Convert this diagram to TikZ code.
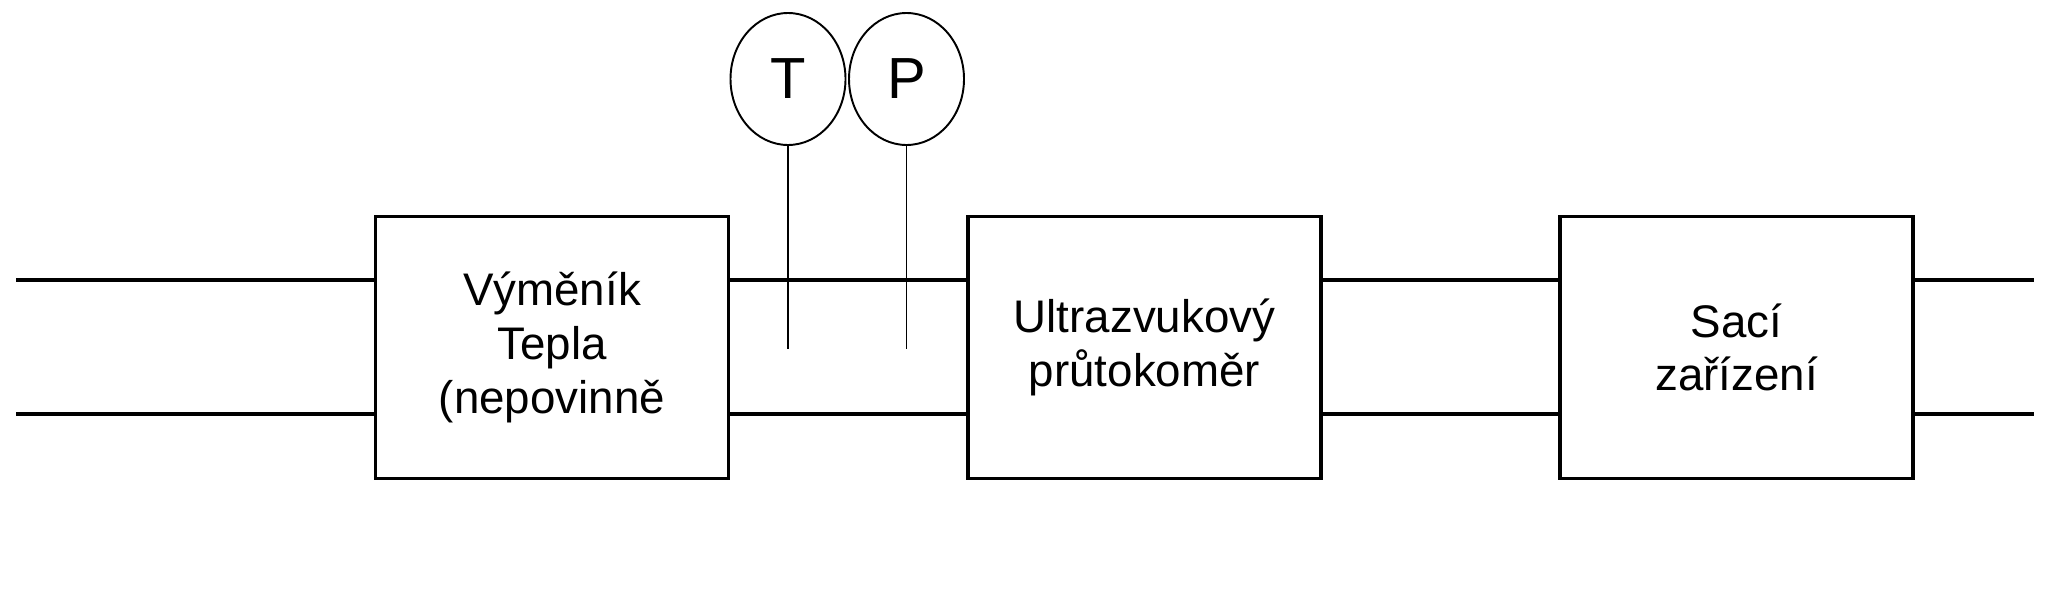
\documentclass[tikz,border=0pt]{standalone}
\usepackage{fontspec}
\setmainfont{Liberation Sans}
\usetikzlibrary{shapes.geometric}

\tikzset{
  pipe/.style={line width=1.8pt},
  unit/.style={draw, line width=1.8pt, minimum width=7.06cm, minimum height=5.24cm,
    inner sep=0pt, align=center, font=\fontsize{26}{30.5}\selectfont},
  gauge/.style={draw, ellipse, line width=1.1pt, minimum width=2.3cm, minimum height=2.64cm,
    inner sep=0pt, font=\fontsize{33}{36}\selectfont},
  stem/.style={line width=1.1pt}
}

\begin{document}
\begin{tikzpicture}
  \useasboundingbox (0,0) rectangle (40.94,12.14);

  % units on the line
  \node[unit] (HX) at (11.04, 5.19) {Výměník\\Tepla\\(nepovinně};
  \node[unit] (USF) at (22.89, 5.19) {Ultrazvukový\\průtokoměr};
  \node[unit] (SUCT) at (34.73, 5.19) {Sací\\zařízení};

  \coordinate (inU) at (0.32, 6.54);
  \coordinate (inL) at (0.32, 3.86);
  \coordinate (outU) at (40.68, 6.54);
  \coordinate (outL) at (40.68, 3.86);

  \draw[pipe] (inU) -- (inU -| HX.west);
  \draw[pipe] (inL) -- (inL -| HX.west);
  \draw[pipe] (inU -| HX.east) -- (inU -| USF.west);
  \draw[pipe] (inL -| HX.east) -- (inL -| USF.west);
  \draw[pipe] (inU -| USF.east) -- (inU -| SUCT.west);
  \draw[pipe] (inL -| USF.east) -- (inL -| SUCT.west);
  \draw[pipe] (outU -| SUCT.east) -- (outU);
  \draw[pipe] (outL -| SUCT.east) -- (outL);

  % temperature and pressure gauges
  \node[gauge] (T) at (15.76, 10.56) {T};
  \node[gauge] (P) at (18.13, 10.56) {P};
  \coordinate (Tfoot) at (15.76, 5.16);
  \coordinate (Pfoot) at (18.13, 5.16);

  \draw[stem] (T.south) -- (Tfoot);
  \draw[stem] (P.south) -- (Pfoot);

\end{tikzpicture}
\end{document}
